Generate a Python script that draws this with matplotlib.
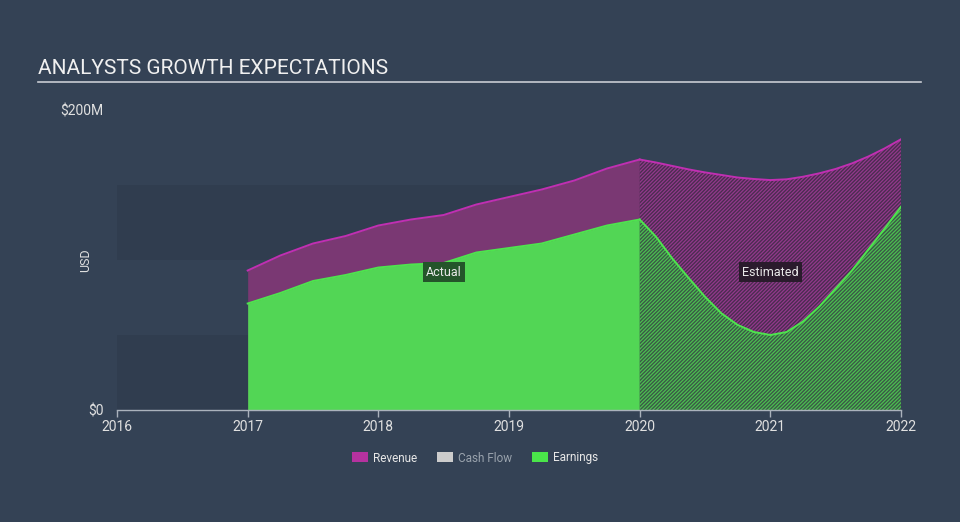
import matplotlib
matplotlib.use('Agg')
import matplotlib.pyplot as plt
from matplotlib.patches import Patch
from matplotlib.lines import Line2D

plt.rcParams['font.family'] = ['Roboto', 'DejaVu Sans']
plt.rcParams['hatch.linewidth'] = 0.9

# values in $M
years_actual = [2017.0, 2017.25, 2017.5, 2017.75, 2018.0, 2018.25, 2018.5,
                2018.75, 2019.0, 2019.25, 2019.5, 2019.75, 2020.0]
revenue_actual = [93, 103, 111, 116, 123, 127, 130, 137, 142, 147, 153, 161, 167]
earnings_actual = [71, 78, 86, 90, 95, 97, 98, 105, 108, 111, 117, 123, 127]

years_est = [2020.0, 2020.125, 2020.25, 2020.375, 2020.5, 2020.625, 2020.75, 2020.875,
             2021.0, 2021.125, 2021.25, 2021.375, 2021.5, 2021.625, 2021.75, 2021.875, 2022.0]
revenue_est = [167, 165, 162.7, 160.4, 158.4, 156.7, 155, 154, 153.3, 153.8, 155.5,
               157.8, 160.7, 164.4, 169, 174.4, 180.5]
earnings_est = [127, 115.5, 101, 88, 75.5, 64.5, 56.7, 52, 50, 52, 59, 69, 81, 93,
                107, 121, 135.5]

x_ticks = [2016, 2017, 2018, 2019, 2020, 2021, 2022]
legend_names = ['Revenue', 'Cash Flow', 'Earnings']

bg = '#344255'
band = '#303d4f'
rev_line = '#c02fb2'
rev_fill = '#7a3873'
earn_line = '#4ee44e'
earn_fill = '#52d655'

fig = plt.figure(figsize=(9.6, 5.22), dpi=100, facecolor=bg)
ax = fig.add_axes([117/960, 112/522, 784/960, 300/522])
ax.set_facecolor(bg)
ax.set_xlim(2016, 2022)
ax.set_ylim(0, 200)

# alternating background bands
ax.axhspan(0, 50, color=band, lw=0, zorder=0)
ax.axhspan(100, 150, color=band, lw=0, zorder=0)

# actual part
ax.fill_between(years_actual, 0, revenue_actual, color=rev_fill, lw=0, zorder=1)
ax.plot(years_actual, revenue_actual, color=rev_line, lw=1.4, zorder=3)
ax.fill_between(years_actual, 0, earnings_actual, color=earn_fill, lw=0, zorder=2)
ax.plot(years_actual, earnings_actual, color=earn_line, lw=1.4, zorder=3)

# estimated part, hatched
ax.fill_between(years_est, 0, revenue_est, facecolor='#4a2c50', edgecolor='#93398c',
                hatch='/' * 9, lw=0, zorder=1)
ax.plot(years_est, revenue_est, color=rev_line, lw=1.4, zorder=3)
ax.fill_between(years_est, 0, earnings_est, facecolor='#3a5846', edgecolor='#4cbf51',
                hatch='/' * 9, lw=0, zorder=2)
ax.plot(years_est, earnings_est, color=earn_line, lw=1.4, zorder=3)

ax.text(2018.5, 92, 'Actual', color='#e8e8e8', fontsize=9, ha='center', va='center',
        zorder=5, bbox=dict(boxstyle='square,pad=0.25', fc='#24552a', ec='none'))
ax.text(2021.0, 92, 'Estimated', color='#e8e8e8', fontsize=9, ha='center', va='center',
        zorder=5, bbox=dict(boxstyle='square,pad=0.25', fc='#2a1b2c', ec='none'))

for s in ['top', 'right', 'left']:
    ax.spines[s].set_visible(False)
ax.spines['bottom'].set_color('#aab2bc')
ax.spines['bottom'].set_linewidth(1)
ax.spines['bottom'].set_zorder(4)

ax.set_xticks(x_ticks)
ax.set_xticklabels([str(y) for y in x_ticks])
ax.tick_params(axis='x', colors='#aab2bc', labelcolor='#e0e0e0', labelsize=10,
               length=5, width=1, pad=2)
ax.set_yticks([0, 200])
ax.set_yticklabels(['$0', '$200M'])
ax.tick_params(axis='y', length=0, labelcolor='#e0e0e0', labelsize=10, pad=9.7)
fig.text(86/960, 1 - 260/522, 'USD', color='#e0e0e0', fontsize=9, rotation=90,
         ha='center', va='center')

# title with rule
fig.text(38/960, 1 - 68/522, 'ANALYSTS GROWTH EXPECTATIONS', color='#f0f0f0',
         fontsize=15, ha='left', va='center')
fig.add_artist(Line2D([38/960, 921/960], [1 - 82/522, 1 - 82/522],
                      color='#c8ccd2', lw=1.2, transform=fig.transFigure))

handles = [Patch(facecolor='#b5329f', edgecolor='none'),
           Patch(facecolor='#cccccc', edgecolor='none'),
           Patch(facecolor='#4ae54a', edgecolor='none')]
leg = fig.legend(handles, legend_names, loc='center', ncol=3,
                 bbox_to_anchor=(475/960, 1 - 458/522), frameon=False, fontsize=8.5,
                 handlelength=1.35, handleheight=0.93, handletextpad=0.42, columnspacing=1.7)
for t, c in zip(leg.get_texts(), ['#e8e8e8', '#9aa3ad', '#e8e8e8']):
    t.set_color(c)

fig.savefig('out.png', dpi=100, facecolor=bg)
